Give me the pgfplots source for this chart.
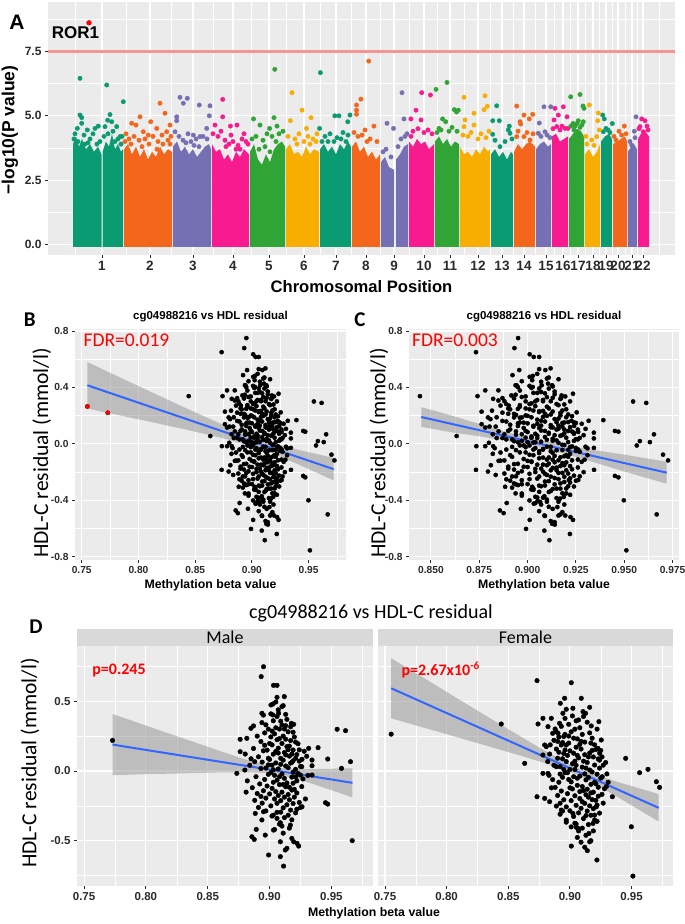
\documentclass[border=0pt]{standalone}
\usepackage{pgfplots}
\pgfplotsset{compat=1.18}
\usepackage{pgfplotstable}
\usepackage{fontspec}
\setmainfont{Liberation Sans}
\newfontfamily\calib{Carlito}
\newcommand\fs[1]{\fontsize{#1}{#1}\selectfont}

\definecolor{panel}{HTML}{EBEBEB}
\definecolor{strip}{HTML}{D9D9D9}
\definecolor{tickc}{HTML}{2B2B2B}
\definecolor{cA}{HTML}{0B9B72}
\definecolor{cB}{HTML}{F4661B}
\definecolor{cC}{HTML}{7570B3}
\definecolor{cD}{HTML}{F71B8F}
\definecolor{cE}{HTML}{30A535}
\definecolor{cF}{HTML}{F8AE00}
\definecolor{refline}{HTML}{F49595}
\definecolor{ggblue}{HTML}{3366FF}
\definecolor{bandc}{HTML}{999999}

\pgfplotsset{
  ggax/.style={
    scale only axis, anchor=south west,
    axis background/.style={fill=panel},
    axis line style={draw=none},
    grid=both,
    major grid style={white, line width=1.1pt},
    minor grid style={white, line width=0.5pt},
    tick align=outside, tick pos=left,
    major tick length=3pt, minor tick length=0pt,
    tick style={tickc, line width=0.9pt},
    tick label style={text=tickc},
    /pgf/number format/assume math mode=true,
  },
  dots/.style={only marks, mark=*, mark size=#1, mark options={draw=black, fill=black}},
  mh/.style={only marks, mark=*, mark size=2.2pt, mark options={draw=#1, fill=#1}},
  band/.style={fill=bandc, fill opacity=0.55, draw=none},
  fit/.style={ggblue, line width=2pt},
}

% methylation beta value vs HDL-C residual, split by sex
\pgfplotstableread{
x y
0.7730 0.220
0.8951 0.750
0.8932 0.679
0.9032 0.616
0.9060 0.616
0.9119 0.535
0.9060 0.530
0.9011 0.475
0.9027 0.482
0.9100 0.463
0.8938 0.415
0.9027 0.403
0.9073 0.415
0.9176 0.343
0.9195 0.336
0.8870 0.324
0.8849 0.307
0.8938 0.348
0.9546 0.300
0.9614 0.290
0.8816 0.235
0.8762 0.228
0.9316 0.163
0.9392 0.168
0.8762 0.139
0.8803 0.122
0.9343 0.079
0.9470 0.086
0.9654 0.067
0.9343 0.038
0.9581 0.019
0.9262 0.084
0.9249 -0.029
0.9343 -0.029
0.8735 -0.017
0.9452 -0.228
0.9470 -0.238
0.9668 -0.501
0.8857 -0.473
0.8876 -0.492
0.8892 -0.420
0.8965 -0.461
0.8938 -0.352
0.8884 -0.305
0.8992 -0.604
0.9087 -0.616
0.9113 -0.684
0.9180 -0.485
0.9195 -0.509
0.9235 -0.540
0.9222 -0.520
0.9127 -0.568
0.9140 -0.556
0.9087 -0.509
0.9032 -0.425
0.9168 -0.389
0.9100 -0.396
0.9087 -0.372
0.8951 -0.293
0.9262 -0.257
0.9019 -0.324
0.893 0.212
0.896 0.274
0.898 0.150
0.899 0.301
0.901 0.245
0.902 0.188
0.903 0.121
0.904 0.267
0.905 0.058
0.906 0.225
0.907 0.164
0.908 0.302
0.909 0.091
0.910 0.198
0.911 0.251
0.912 0.133
0.913 0.036
0.914 0.175
0.915 0.282
0.916 0.107
0.917 0.219
0.918 0.062
0.919 0.151
0.920 0.245
0.921 0.012
0.922 0.118
0.923 0.196
0.924 0.071
0.891 0.102
0.894 0.064
0.895 0.145
0.897 0.021
0.900 0.083
0.901 -0.012
0.902 0.042
0.904 -0.031
0.905 0.141
0.906 -0.066
0.907 0.015
0.908 -0.098
0.909 0.048
0.910 -0.021
0.911 0.078
0.912 -0.053
0.913 0.116
0.914 -0.086
0.915 0.024
0.916 -0.117
0.917 0.057
0.918 -0.044
0.919 -0.009
0.920 -0.132
0.921 0.091
0.922 -0.071
0.923 -0.018
0.925 0.033
0.889 -0.041
0.892 -0.093
0.893 0.018
0.895 -0.142
0.896 -0.061
0.898 -0.108
0.899 -0.024
0.900 -0.165
0.902 -0.125
0.903 -0.081
0.904 -0.201
0.905 -0.148
0.906 -0.232
0.907 -0.176
0.908 -0.041
0.909 -0.213
0.910 -0.152
0.911 -0.265
0.912 -0.188
0.913 -0.113
0.914 -0.243
0.915 -0.169
0.916 -0.207
0.917 -0.281
0.918 -0.137
0.919 -0.234
0.920 -0.188
0.921 -0.301
0.922 -0.158
0.924 -0.226
0.926 -0.112
0.927 -0.057
0.928 0.142
0.929 -0.201
0.890 0.251
0.897 0.332
0.903 0.361
0.906 0.392
0.909 0.358
0.912 0.302
0.914 0.371
0.917 0.318
0.919 0.279
0.907 0.440
0.911 0.470
0.900 0.198
0.887 0.162
0.886 -0.120
0.888 -0.211
0.891 -0.262
0.894 -0.231
0.897 -0.287
0.901 -0.251
0.903 -0.318
0.906 -0.341
0.909 -0.296
0.912 -0.335
0.915 -0.318
0.918 -0.351
0.908 -0.382
0.904 -0.421
0.911 -0.447
0.916 -0.411
0.922 -0.275
0.925 -0.262
0.884 0.041
0.882 -0.071
0.885 0.088
0.888 0.067
0.890 -0.162
0.893 -0.183
0.896 0.185
0.899 0.092
0.902 0.287
0.905 0.311
0.908 0.233
0.910 0.331
0.913 0.229
0.916 0.179
0.919 0.073
0.921 0.208
0.924 0.152
0.926 0.031
0.930 0.106
0.931 -0.032
0.881 -0.152
0.880 0.007
0.895 0.402
0.901 0.411
0.905 0.496
0.913 0.407
0.918 0.122
0.899 0.044
0.903 0.009
0.907 0.129
0.911 -0.097
0.915 0.153
0.919 -0.088
0.906 -0.297
0.913 0.326
0.897 -0.195
0.921 -0.043
}\maletab

\pgfplotstableread{
x y
0.7550 0.265
0.8443 0.338
0.8633 0.055
0.8733 0.650
0.9011 0.635
0.8957 0.523
0.9092 0.523
0.8922 0.487
0.9160 0.458
0.8970 0.444
0.9024 0.451
0.9106 0.427
0.9127 0.415
0.8781 0.379
0.8849 0.379
0.8943 0.415
0.9235 0.355
0.8741 0.338
0.8822 0.319
0.8916 0.343
0.9173 0.324
0.9452 0.091
0.9565 -0.012
0.9633 0.012
0.9701 -0.077
0.9727 -0.118
0.9295 -0.113
0.9344 -0.185
0.8733 -0.185
0.8781 -0.017
0.8822 -0.017
0.8795 -0.197
0.8835 -0.221
0.8930 -0.281
0.9498 -0.401
0.9511 -0.756
0.9219 -0.640
0.9011 -0.540
0.9141 -0.573
0.9065 -0.413
0.9052 -0.405
0.9154 -0.449
0.9160 -0.509
0.9187 -0.377
0.9200 -0.317
0.8970 -0.353
0.9024 -0.305
0.9214 -0.257
0.9262 -0.041
0.9227 0.163
0.9241 0.127
0.9254 0.223
0.8795 0.187
0.8808 0.175
0.8889 0.283
0.8903 0.271
0.8835 0.122
0.8781 0.115
0.887 0.221
0.889 0.158
0.890 0.092
0.891 0.244
0.892 0.031
0.893 0.187
0.894 -0.045
0.895 0.126
0.896 0.263
0.897 0.068
0.898 -0.012
0.899 0.201
0.900 0.145
0.901 -0.078
0.902 0.052
0.903 0.236
0.904 0.011
0.905 0.171
0.906 -0.103
0.907 0.094
0.908 -0.037
0.909 0.213
0.910 0.028
0.911 -0.141
0.912 0.117
0.913 -0.064
0.914 0.061
0.915 -0.188
0.916 0.007
0.917 -0.096
0.918 0.148
0.919 -0.152
0.920 0.043
0.921 -0.211
0.922 -0.023
0.923 -0.117
0.924 0.078
0.926 -0.168
0.886 -0.062
0.888 -0.118
0.889 0.031
0.890 -0.176
0.891 -0.081
0.892 -0.232
0.893 -0.144
0.894 0.088
0.895 -0.207
0.896 -0.012
0.897 -0.258
0.898 -0.163
0.899 -0.061
0.900 -0.286
0.901 -0.213
0.902 -0.129
0.903 -0.327
0.904 -0.178
0.905 -0.247
0.906 -0.052
0.907 -0.301
0.908 -0.198
0.909 -0.268
0.910 -0.112
0.911 -0.342
0.912 -0.233
0.913 -0.171
0.914 -0.288
0.915 -0.046
0.916 -0.251
0.917 -0.318
0.918 -0.206
0.919 -0.271
0.920 -0.352
0.921 -0.092
0.922 -0.245
0.924 -0.303
0.925 -0.051
0.928 -0.128
0.930 -0.021
0.884 0.188
0.886 0.271
0.888 0.302
0.890 0.213
0.893 0.321
0.895 0.248
0.897 0.187
0.899 0.336
0.901 0.282
0.903 0.128
0.905 0.361
0.906 0.231
0.908 0.311
0.910 0.263
0.912 0.208
0.914 0.351
0.916 0.274
0.918 0.236
0.920 0.188
0.922 0.301
0.923 0.087
0.925 0.148
0.927 0.042
0.911 0.392
0.907 0.367
0.902 0.396
0.896 0.378
0.889 -0.252
0.892 -0.311
0.894 -0.288
0.897 -0.368
0.901 -0.402
0.904 -0.376
0.907 -0.431
0.910 -0.411
0.913 -0.462
0.915 -0.385
0.919 -0.431
0.922 -0.362
0.909 -0.512
0.906 -0.478
0.912 -0.548
0.917 -0.501
0.904 0.071
0.909 0.158
0.913 0.021
0.917 0.201
0.919 0.101
0.921 0.154
0.923 -0.181
0.898 0.112
0.894 0.205
0.900 0.011
0.903 -0.041
0.906 0.112
0.911 0.071
0.914 -0.131
0.916 0.129
0.918 -0.007
0.891 0.135
0.887 0.041
0.883 -0.031
0.885 -0.121
0.882 0.068
0.899 0.251
0.904 0.301
0.908 -0.148
0.912 -0.021
0.924 0.021
0.926 0.101
0.929 0.061
0.931 -0.081
0.895 0.011
0.892 -0.022
0.927 -0.231
0.905 -0.381
0.913 -0.321
0.900 -0.121
0.905 0.041
0.910 -0.221
0.915 0.101
0.920 -0.081
0.896 0.151
0.908 0.191
0.917 -0.158
}\femtab

\begin{document}
\begin{tikzpicture}
\path[use as bounding box, fill=white] (0,0) rectangle (685pt,924pt);

% ---------------- A: Manhattan plot ----------------
\begin{axis}[ggax, at={(48pt,669pt)}, width=627pt, height=253pt,
  xmin=48, xmax=675, ymin=-0.416, ymax=9.43,
  xtick={102,150,193,233,269,304,336,366,394,424,450,478,502,524,546,563,578,593,606,618,632,643},
  xticklabels={1,2,3,4,5,6,7,8,9,10,11,12,13,14,15,16,17,18,19,20,21,22},
  minor xtick={75,126,171.5,213,251,286.5,320,351,380,409,437,464,490,513,535,554.5,570.5,585.5,599.5,612,625,637.5,659},
  ytick={0,2.5,5,7.5}, yticklabels={0.0,2.5,5.0,7.5},
  minor ytick={1.25,3.75,6.25,8.75},
  xticklabel style={font=\bfseries\fs{13.5}},
  yticklabel style={font=\bfseries\fs{12}},
]
% chromosome blocks (dense points)
\addplot[fill=cA, draw=none] coordinates {(73,-0.1) (73,3.9) (76,4.2) (79,3.8) (82,4.1) (86,3.7) (90,3.9) (94,3.6) (98,3.8) (101.5,3.5) (101.5,-0.1)};
\addplot[fill=cA, draw=none] coordinates {(102.5,-0.1) (102.5,3.6) (106,4.0) (109,3.8) (112,4.3) (115,3.7) (118,3.9) (121,3.6) (123,3.7) (123,-0.1)};
\addplot[fill=cB, draw=none] coordinates {(124,-0.1) (124,3.7) (128,3.9) (132,3.5) (136,3.8) (140,3.4) (144,3.7) (148,3.3) (152,3.6) (156,3.4) (160,3.8) (164,3.5) (168,3.7) (172,3.6) (172,-0.1)};
\addplot[fill=cC, draw=none] coordinates {(173,-0.1) (173,3.8) (177,4.0) (181,3.6) (185,3.8) (189,3.5) (193,3.7) (197,3.4) (201,3.6) (205,3.8) (209,3.9) (211,3.7) (211,-0.1)};
\addplot[fill=cD, draw=none] coordinates {(212,-0.1) (212,3.9) (216,3.6) (220,3.7) (224,3.3) (228,3.5) (232,3.2) (236,3.6) (240,3.4) (244,3.7) (249,3.5) (249,-0.1)};
\addplot[fill=cE, draw=none] coordinates {(250,-0.1) (250,3.6) (254,3.9) (258,3.3) (262,3.1) (266,3.5) (270,3.2) (274,3.7) (278,3.9) (282,4.0) (285,3.8) (285,-0.1)};
\addplot[fill=cF, draw=none] coordinates {(286,-0.1) (286,3.7) (290,3.9) (294,3.5) (298,3.6) (302,3.4) (306,3.8) (310,3.5) (314,3.7) (319,3.6) (319,-0.1)};
\addplot[fill=cA, draw=none] coordinates {(320,-0.1) (320,3.7) (324,3.9) (328,3.6) (332,3.8) (336,3.5) (340,3.9) (344,3.7) (348,4.0) (351,3.8) (351,-0.1)};
\addplot[fill=cB, draw=none] coordinates {(352,-0.1) (352,3.8) (356,4.0) (360,3.6) (364,3.8) (368,3.4) (372,3.6) (376,3.3) (380,3.5) (380,-0.1)};
\addplot[fill=cC, draw=none] coordinates {(381,-0.1) (381,3.2) (385,3.4) (389,3.0) (394,2.9) (394,-0.1)};
\addplot[fill=cC, draw=none] coordinates {(396,-0.1) (396,3.3) (400,3.5) (404,3.8) (408,3.9) (408,-0.1)};
\addplot[fill=cD, draw=none] coordinates {(409,-0.1) (409,4.0) (413,3.8) (417,4.1) (421,3.9) (425,4.0) (429,3.7) (434,3.9) (434,-0.1)};
\addplot[fill=cE, draw=none] coordinates {(435,-0.1) (435,4.0) (439,4.2) (443,3.9) (447,4.1) (451,3.8) (455,4.0) (459,3.9) (459,-0.1)};
\addplot[fill=cF, draw=none] coordinates {(460,-0.1) (460,3.8) (464,3.5) (468,3.6) (472,3.4) (476,3.7) (480,3.5) (484,3.8) (488,3.6) (490,3.7) (490,-0.1)};
\addplot[fill=cA, draw=none] coordinates {(491,-0.1) (491,3.5) (495,3.7) (499,3.4) (503,3.6) (507,3.3) (511,3.6) (513,3.5) (513,-0.1)};
\addplot[fill=cB, draw=none] coordinates {(514,-0.1) (514,3.6) (518,3.9) (522,3.7) (526,3.9) (530,4.0) (535,3.8) (535,-0.1)};
\addplot[fill=cC, draw=none] coordinates {(536,-0.1) (536,3.7) (540,3.9) (544,4.0) (548,3.8) (551,3.9) (551,-0.1)};
\addplot[fill=cD, draw=none] coordinates {(552,-0.1) (552,4.2) (556,4.3) (560,4.0) (564,4.1) (568,4.2) (568,-0.1)};
\addplot[fill=cE, draw=none] coordinates {(569,-0.1) (569,4.1) (573,4.3) (577,4.5) (581,4.4) (584,4.2) (584,-0.1)};
\addplot[fill=cF, draw=none] coordinates {(585,-0.1) (585,3.5) (589,3.7) (593,3.4) (597,3.6) (600,3.9) (600,-0.1)};
\addplot[fill=cA, draw=none] coordinates {(601,-0.1) (601,4.0) (605,4.2) (609,4.3) (612,4.1) (612,-0.1)};
\addplot[fill=cB, draw=none] coordinates {(613,-0.1) (613,3.9) (617,4.0) (621,4.1) (625,4.2) (627,4.0) (627,-0.1)};
\addplot[fill=cC, draw=none] coordinates {(628,-0.1) (628,3.6) (631,3.8) (634,3.9) (637,3.7) (637,-0.1)};
\addplot[fill=cD, draw=none] coordinates {(638,-0.1) (638,4.1) (641,4.3) (645,4.4) (649,4.2) (649,-0.1)};
% sparse points above the blocks
\addplot[mh=cA] coordinates {
 (80,6.46) (106.7,6.2) (123.3,5.55) (80,5.03) (81.7,4.93) (110,5.05) (107.7,4.83) (116.7,4.58) (81.7,4.71) (77.3,4.51)
 (98.3,4.6) (95,4.51) (87.3,4.45) (120,4.19) (105,4.58) (111.7,4.77) (75,4.3) (84,4.25) (90,4.1) (93,4.3) (100,4.0)
 (113,4.4) (118,4.1) (122,4.2) (78,4.0) (88,3.95) (74,4.1) (85,3.9) (97,3.9) (104,4.2) (108,4.3) (115,4.0) (121,3.9)
 (320.4,6.68) (334.8,5.0) (339,5.0) (350,5.03) (347.8,4.77) (319.6,4.51) (325,4.2) (330,4.3) (337,4.15) (343,4.35) (348,4.25) (328,4.0)
 (322,4.0) (334,4.0) (341,4.1) (346,4.0)
 (496.7,5.39) (492.7,4.81) (499.3,4.81) (509.3,4.6) (508.3,4.45) (492.7,4.28) (510,4.32) (500,3.8) (495,4.05) (505,4.0) (512,4.1)
 (602.7,5.03) (604.3,4.88) (612.3,4.7) (606,4.51) (603.3,4.38) (608,4.45) (610,4.35)};
\addplot[mh=cB] coordinates {
 (140,4.96) (131.7,4.71) (136,4.64) (160,5.49) (165,5.1) (150.7,4.77) (156.7,4.51) (143.3,4.38) (170,4.64) (166.7,4.38)
 (148.3,4.25) (126,4.3) (129,4.1) (134,4.2) (139,4.05) (145,4.1) (153,4.2) (158,4.0) (162,4.25) (168,4.05) (171,4.2) (155,2.76)
 (125,4.0) (131,3.9) (142,3.8) (149,3.9) (157,3.7) (163,3.9) (170,3.9)
 (368.7,7.13) (360.9,5.65) (356.5,5.42) (356.5,5.22) (356.5,5.06) (373.9,4.6) (365,4.45) (354,4.35) (358,4.2) (362,4.25) (370,4.1) (377,4.0) (367,4.0)
 (516.7,5.38) (524,5.03) (529.3,4.88) (532.7,5.06) (520.7,4.68) (520,4.77) (516.7,4.19) (524,4.19) (530,4.06) (527,4.35) (533,4.3) (518,4.4)
 (624.3,4.6) (621.7,4.25) (616,4.06) (619,4.4) (626,4.3) (614,4.2)};
\addplot[mh=cC] coordinates {
 (180,5.72) (187.3,5.68) (183.3,5.49) (199.3,5.42) (210,5.39) (176.7,4.96) (209.3,5.0) (176.7,4.81) (206.7,4.51) (175,4.38)
 (193.3,4.25) (200,4.19) (179,4.2) (183,4.05) (188,4.3) (191,4.0) (196,4.1) (203,4.2) (207,4.1) (186,3.95) (194,3.85) (199,3.8)
 (402,5.9) (404,4.88) (387,4.71) (393.5,4.51) (383,3.6) (386,3.7) (391,3.4) (398,3.8) (401,4.1) (405,4.2) (407,4.3)
 (544,5.35) (550.7,5.35) (539.3,4.72) (538.3,4.32) (545,4.38) (541,4.2) (547,4.25) (550,4.15)
 (636,4.96) (634.3,4.4) (631.7,3.86) (630,4.0) (635,4.15)};
\addplot[mh=cD] coordinates {
 (222.7,5.64) (222.7,4.96) (215,4.64) (230.4,4.6) (237,4.64) (213,4.3) (218,4.2) (221,4.4) (225,4.05) (229,3.9) (233,4.0)
 (238,3.85) (242,4.1) (246,4.0) (231,4.25) (236,3.7) (244,4.3) (226,3.8) (240,3.7) (248,3.9)
 (421.7,5.9) (430.4,5.81) (416,5.22) (421,4.84) (410.9,4.88) (413,4.4) (418,4.5) (424,4.35) (428,4.45) (432,4.3) (411,4.2)
 (555,5.29) (563.3,5.35) (554,4.84) (558.3,5.03) (567,4.96) (556.7,4.58) (565,4.51) (568,4.51) (553,4.5) (560,4.45) (562,4.6)
 (641.7,4.88) (645,4.81) (640,4.58) (643.3,4.38) (639,4.5) (647,4.6) (648,4.45)};
\addplot[mh=cE] coordinates {
 (274.8,6.81) (253.5,4.88) (274,4.93) (260,4.64) (269.6,4.51) (256,4.2) (263,4.05) (267,4.3) (272,4.2) (279,4.3) (283,4.4) (277,4.6) (252,4.1)
 (259,3.7) (265,3.8) (270,3.6) (276,4.0)
 (436,6.03) (447,6.3) (454.3,5.24) (456.5,5.15) (442.6,4.88) (445.7,4.77) (439,4.51) (458.3,5.22) (437,4.35) (441,4.45) (449,4.4) (452,4.55) (457,4.4)
 (570.7,5.74) (580,5.83) (584,5.29) (583,5.38) (578.3,4.81) (583.3,4.77) (575,4.6) (574,4.45) (571,4.6) (577,4.7) (580,4.55) (582,4.65) (573,4.7)};
\addplot[mh=cF] coordinates {
 (292,5.9) (302,5.22) (311,4.93) (290.4,4.81) (306.5,4.51) (288,4.2) (295,4.1) (299,4.3) (304,4.0) (308,4.2) (313,4.1) (317,4.3)
 (297,3.9) (310,3.9) (316,4.0)
 (464,5.72) (485,5.78) (474,5.1) (487.3,5.37) (484,5.24) (465,4.84) (474,4.64) (464,4.58) (463,4.25) (468,4.2) (471,4.35) (478,4.1) (481,4.3) (486,4.15) (489,4.4)
 (589.3,5.42) (598.3,5.11) (597.7,4.81) (599.3,4.45) (596.7,4.19) (591.7,4.06) (587,3.9) (594,3.85) (586,4.2)};
\addplot[draw=refline, line width=2.2pt] coordinates {(48,7.5) (675,7.5)};
\addplot[only marks, mark=*, mark size=2.4pt, mark options={draw=red, fill=red}] coordinates {(89,8.62)};
\end{axis}
\node[font=\bfseries\fs{21}] at (17pt,902pt) {A};
\node[font=\bfseries\fs{17}] at (75.5pt,891pt) {ROR1};
\node[font=\bfseries\fs{17.5}, rotate=90] at (10pt,794pt) {−log10(P value)};
\node[font=\bfseries\fs{16.6}] at (361.5pt,637pt) {Chromosomal Position};

% ---------------- B ----------------
\begin{axis}[ggax, at={(75pt,364pt)}, width=271pt, height=231pt,
  xmin=0.7441, xmax=0.9829, ymin=-0.8245, ymax=0.8145,
  xtick={0.75,0.8,0.85,0.9,0.95}, xticklabels={0.75,0.80,0.85,0.90,0.95},
  minor xtick={0.775,0.825,0.875,0.925,0.975},
  ytick={-0.8,-0.4,0,0.4,0.8}, yticklabels={-0.8,-0.4,0.0,0.4,0.8},
  minor ytick={-0.6,-0.2,0.2,0.6},
  tick label style={font=\bfseries\fs{10.2}},
]
\addplot[dots=2.1pt] table[x=x,y=y] {\maletab};
\addplot[dots=2.1pt] table[x=x,y=y] {\femtab};
\addplot[only marks, mark=*, mark size=2.1pt, mark options={draw=red, fill=red}] coordinates {(0.755,0.265) (0.773,0.220)};
\addplot[band] coordinates {(0.755,0.580) (0.78,0.485) (0.80,0.410) (0.82,0.335) (0.84,0.260) (0.86,0.187) (0.88,0.116) (0.905,0.039) (0.92,0.001) (0.94,-0.041) (0.96,-0.078) (0.972,-0.100)
 (0.972,-0.260) (0.96,-0.216) (0.94,-0.143) (0.92,-0.075) (0.905,-0.031) (0.88,0.028) (0.86,0.067) (0.84,0.104) (0.82,0.139) (0.80,0.174) (0.78,0.207) (0.755,0.250)};
\addplot[fit] coordinates {(0.755,0.415) (0.972,-0.180)};
\end{axis}
\node[font=\calib\bfseries\fs{21}] at (29.7pt,604pt) {B};
\node[font=\bfseries\fs{11.5}] at (210.5pt,607pt) {cg04988216 vs HDL residual};
\node[font=\calib\fs{19.5}, text=red] at (126.5pt,584pt) {FDR=0.019};
\node[font=\calib\fs{21.5}, rotate=90] at (41.7pt,471pt) {HDL-C residual (mmol/l)};
\node[font=\bfseries\fs{12.3}] at (210.5pt,339pt) {Methylation beta value};

% ---------------- C ----------------
\begin{axis}[ggax, at={(409pt,364pt)}, width=270pt, height=231pt,
  xmin=0.83865, xmax=0.97835, ymin=-0.8245, ymax=0.8145,
  xtick={0.85,0.875,0.9,0.925,0.95,0.975}, xticklabels={0.850,0.875,0.900,0.925,0.950,0.975},
  minor xtick={0.8625,0.8875,0.9125,0.9375,0.9625},
  ytick={-0.8,-0.4,0,0.4,0.8}, yticklabels={-0.8,-0.4,0.0,0.4,0.8},
  minor ytick={-0.6,-0.2,0.2,0.6},
  tick label style={font=\bfseries\fs{10.2}},
]
\addplot[dots=2.1pt] table[x=x,y=y] {\maletab};
\addplot[dots=2.1pt] table[x=x,y=y] {\femtab};
\addplot[band] coordinates {(0.845,0.260) (0.86,0.203) (0.875,0.141) (0.89,0.081) (0.905,0.028) (0.92,-0.012) (0.935,-0.046) (0.95,-0.077) (0.972,-0.127)
 (0.972,-0.283) (0.95,-0.197) (0.935,-0.134) (0.92,-0.074) (0.905,-0.022) (0.89,0.019) (0.875,0.053) (0.86,0.083) (0.845,0.120)};
\addplot[fit] coordinates {(0.845,0.190) (0.972,-0.205)};
\end{axis}
\node[font=\calib\bfseries\fs{21}] at (360pt,604pt) {C};
\node[font=\bfseries\fs{11.5}] at (544pt,607pt) {cg04988216 vs HDL residual};
\node[font=\calib\fs{19.5}, text=red] at (455pt,584pt) {FDR=0.003};
\node[font=\calib\fs{21.5}, rotate=90] at (379pt,471pt) {HDL-C residual (mmol/l)};
\node[font=\bfseries\fs{12.3}] at (544pt,339pt) {Methylation beta value};

% ---------------- D ----------------
\fill[strip] (77pt,278pt) rectangle (373pt,295pt);
\fill[strip] (378pt,278pt) rectangle (673pt,295pt);
\node[font=\calib\fs{18}] at (225pt,286.5pt) {Male};
\node[font=\calib\fs{18}] at (525.5pt,286.5pt) {Female};
\begin{axis}[ggax, at={(77pt,38pt)}, width=296pt, height=240pt,
  xmin=0.7443, xmax=0.9836, ymin=-0.827, ymax=0.899,
  xtick={0.75,0.8,0.85,0.9,0.95}, xticklabels={0.75,0.80,0.85,0.90,0.95},
  minor xtick={0.775,0.825,0.875,0.925,0.975},
  ytick={-0.5,0,0.5}, yticklabels={-0.5,0.0,0.5},
  minor ytick={-0.75,-0.25,0.25,0.75},
  tick label style={font=\bfseries\fs{11.5}},
]
\addplot[dots=2.3pt] table[x=x,y=y] {\maletab};
\addplot[band] coordinates {(0.773,0.410) (0.80,0.327) (0.83,0.235) (0.86,0.144) (0.88,0.084) (0.905,0.023) (0.93,0.013) (0.95,0.016) (0.967,0.020)
 (0.967,-0.190) (0.95,-0.138) (0.93,-0.079) (0.905,-0.017) (0.88,-0.008) (0.86,-0.010) (0.83,-0.017) (0.80,-0.023) (0.773,-0.030)};
\addplot[fit] coordinates {(0.773,0.190) (0.967,-0.085)};
\end{axis}
\begin{axis}[ggax, at={(378pt,38pt)}, width=295pt, height=240pt,
  xmin=0.7443, xmax=0.9836, ymin=-0.827, ymax=0.899,
  xtick={0.75,0.8,0.85,0.9,0.95}, xticklabels={0.75,0.80,0.85,0.90,0.95},
  minor xtick={0.775,0.825,0.875,0.925,0.975},
  ytick={-0.5,0,0.5}, yticklabels={}, ytick style={draw=none},
  minor ytick={-0.75,-0.25,0.25,0.75},
  tick label style={font=\bfseries\fs{11.5}},
]
\addplot[dots=2.3pt] table[x=x,y=y] {\femtab};
\addplot[band] coordinates {(0.755,0.811) (0.78,0.677) (0.80,0.569) (0.82,0.461) (0.84,0.354) (0.86,0.248) (0.88,0.144) (0.905,0.026) (0.92,-0.026) (0.94,-0.082) (0.96,-0.134) (0.972,-0.166)
 (0.972,-0.364) (0.96,-0.300) (0.94,-0.194) (0.92,-0.092) (0.905,-0.024) (0.88,0.056) (0.86,0.110) (0.84,0.162) (0.82,0.213) (0.80,0.265) (0.78,0.315) (0.755,0.379)};
\addplot[fit] coordinates {(0.755,0.595) (0.972,-0.265)};
\end{axis}
\node[font=\calib\bfseries\fs{21}] at (36pt,297pt) {D};
\node[font=\calib\fs{20}] at (371pt,311pt) {cg04988216 vs HDL-C residual};
\node[font=\calib\bfseries\fs{16}, text=red] at (119pt,253.3pt) {p=0.245};
\node[font=\calib\bfseries\fs{16}, text=red, anchor=west] at (398pt,254pt) {p=2.67x10\textsuperscript{-6}};
\node[font=\calib\fs{21.5}, rotate=90] at (30pt,161pt) {HDL-C residual (mmol/l)};
\node[font=\bfseries\fs{12.3}] at (374pt,11pt) {Methylation beta value};
\end{tikzpicture}
\end{document}
